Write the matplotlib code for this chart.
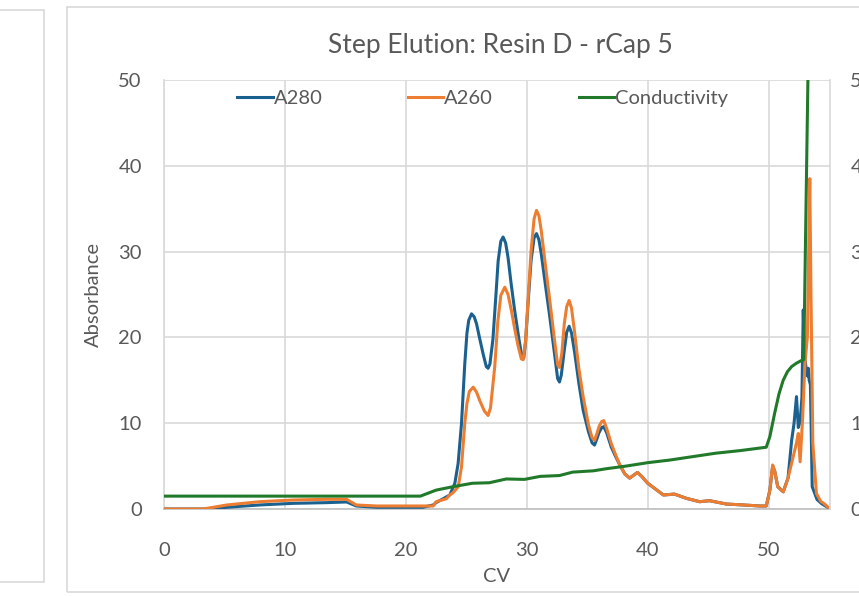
import matplotlib
matplotlib.use("Agg")
import matplotlib.pyplot as plt
from matplotlib.patches import Rectangle

# ---- data -------------------------------------------------------------
cv_a280 = [0.0, 3.25, 5.2, 7.9, 10.7, 13.4, 15.1, 15.9, 17.6, 21.4, 22.26, 22.5,
           23.63, 24.05, 24.32, 24.6, 24.87, 25.05, 25.2, 25.43, 25.65, 25.84,
           26.1, 26.4, 26.65, 26.8, 26.95, 27.2, 27.45, 27.63, 27.85, 28.04,
           28.25, 28.45, 28.7, 29.0, 29.35, 29.6, 29.75, 29.9, 30.1, 30.35,
           30.6, 30.8, 31.0, 31.2, 31.55, 31.9, 32.3, 32.55, 32.7, 32.85, 33.1,
           33.3, 33.5, 33.7, 33.97, 34.3, 34.66, 35.1, 35.4, 35.6, 35.8, 35.97,
           36.2, 36.36, 36.6, 36.99, 37.35, 37.7, 38.1, 38.5, 38.8, 39.15, 39.5,
           40.0, 41.3, 42.2, 43.2, 44.3, 45.1, 46.5, 47.9, 49.3, 49.8, 50.1,
           50.33, 50.5, 50.75, 51.2, 51.6, 51.9, 52.1, 52.3, 52.45, 52.6, 52.75,
           52.86, 52.95, 53.1, 53.2, 53.28, 53.35, 53.45, 53.6, 54.0, 54.4, 55.0]
a280 = [0.0, 0.0, 0.2, 0.47, 0.66, 0.74, 0.82, 0.35, 0.2, 0.2, 0.47, 0.74,
        1.63, 3.0, 5.3, 9.96, 16.9, 20.5, 22.0, 22.75, 22.4, 21.6,
        19.9, 18.0, 16.6, 16.4, 16.9, 19.8, 25.0, 28.9, 31.2, 31.7,
        31.0, 29.3, 26.3, 23.1, 19.8, 17.7, 17.6, 19.5, 23.9, 28.9,
        31.6, 32.1, 31.4, 29.7, 26.0, 22.4, 18.0, 15.2, 14.8, 15.6, 18.5,
        20.6, 21.3, 20.5, 18.1, 14.7, 11.5, 9.0, 7.7, 7.45, 8.2, 8.9,
        9.5, 9.6, 8.9, 7.2, 6.1, 5.1, 4.1, 3.6, 3.9, 4.26, 3.8,
        3.0, 1.63, 1.74, 1.24, 0.85, 0.97, 0.58, 0.47, 0.35, 0.35, 2.2,
        5.0, 4.4, 2.6, 2.0, 3.6, 8.0, 10.0, 13.1, 9.5, 10.2, 13.0,
        23.2, 18.0, 16.4, 15.5, 16.4, 15.0, 14.5, 2.6, 1.1, 0.6, 0.1]

cv_a260 = [0.0, 3.25, 5.2, 7.9, 10.7, 13.4, 15.1, 15.9, 17.6, 21.4, 22.26, 22.5,
           23.36, 23.6, 23.9, 24.33, 24.6, 24.87, 25.05, 25.25, 25.57, 25.85,
           26.12, 26.5, 26.8, 27.0, 27.35, 27.6, 27.85, 28.18, 28.45, 28.73,
           29.0, 29.28, 29.55, 29.7, 29.9, 30.1, 30.35, 30.6, 30.8, 31.0, 31.2,
           31.55, 31.9, 32.3, 32.55, 32.7, 32.9, 33.1, 33.3, 33.5, 33.7, 33.97,
           34.3, 34.66, 35.1, 35.4, 35.6, 35.8, 36.0, 36.2, 36.36, 36.6, 36.99,
           37.35, 37.7, 38.1, 38.5, 38.8, 39.15, 39.5, 40.0, 41.3, 42.2, 43.2,
           44.3, 45.1, 46.5, 47.9, 49.3, 49.8, 50.1, 50.33, 50.5, 50.75, 51.21,
           51.6, 52.03, 52.3, 52.45, 52.6, 52.8, 53.0, 53.2, 53.4, 53.5, 53.65,
           53.95, 54.3, 54.6, 55.0]
a260 = [0.0, 0.0, 0.47, 0.85, 1.05, 1.13, 1.13, 0.47, 0.35, 0.35, 0.35, 0.85,
        1.2, 1.6, 1.9, 2.6, 4.9, 9.96, 12.3, 13.7, 14.2, 13.6,
        12.6, 11.4, 10.9, 11.8, 16.6, 21.8, 24.9, 25.85, 25.0, 23.1,
        21.0, 19.0, 17.5, 17.4, 19.6, 24.3, 30.0, 33.8, 34.8, 34.2, 32.4,
        28.3, 24.3, 19.6, 16.8, 16.5, 18.2, 21.6, 23.6, 24.3, 23.4, 20.4,
        16.4, 13.1, 9.8, 8.3, 8.0, 8.8, 9.7, 10.2, 10.3, 9.4, 7.6,
        6.3, 5.1, 4.1, 3.6, 3.9, 4.26, 3.8, 3.0, 1.63, 1.74, 1.24,
        0.85, 0.97, 0.58, 0.47, 0.35, 0.35, 2.2, 5.13, 4.4, 2.6, 2.0,
        3.6, 6.1, 7.7, 8.8, 5.5, 10.4, 17.0, 20.0, 38.5, 25.0, 7.7,
        1.8, 0.9, 0.6, 0.1]

cv_cond = [0.0, 21.2, 22.5, 23.9, 25.5, 26.9, 28.3, 29.8, 31.1, 32.7, 33.8,
           35.5, 36.6, 38.2, 40.0, 41.8, 43.7, 45.6, 47.6, 49.8, 50.1, 50.5,
           50.85, 51.2, 51.55, 51.9, 52.3, 52.7, 52.9, 53.35, 55.0]
conductivity = [1.5, 1.5, 2.2, 2.6, 3.0, 3.06, 3.5, 3.45, 3.8, 3.9, 4.3,
                4.45, 4.7, 5.0, 5.4, 5.7, 6.1, 6.5, 6.8, 7.2, 8.45, 11.2,
                13.4, 15.0, 16.0, 16.6, 17.0, 17.3, 17.4, 60.0, 60.0]

title = "Step Elution: Resin D - rCap 5"
x_label = "CV"
y_label = "Absorbance"
x_ticks = [0, 10, 20, 30, 40, 50]
y_ticks = [0, 10, 20, 30, 40, 50]

# ---- style ------------------------------------------------------------
FONT = ["Lato", "DejaVu Sans"]
TEXT = "#595959"
GRID = "#d9d9d9"
C280 = "#1b6190"
C260 = "#ed7d31"
CCON = "#217a2a"
W, H = 859, 596
FS = 14.5

plt.rcParams["font.family"] = FONT
fig = plt.figure(figsize=(W / 100, H / 100), dpi=100)

# panel frames
fig.patches.append(Rectangle((-5 / W, 1 - 582 / H), 49 / W, 572 / H,
                             transform=fig.transFigure, fill=False,
                             edgecolor=GRID, lw=1.2))
fig.patches.append(Rectangle((67 / W, 1 - 592 / H), 800 / W, 585 / H,
                             transform=fig.transFigure, fill=False,
                             edgecolor=GRID, lw=1.2))

x0, x1, y0, y1 = 164, 829.5, 509, 80
ax = fig.add_axes([x0 / W, 1 - y0 / H, (x1 - x0) / W, (y0 - y1) / H])
ax.set_xlim(0, 55.03)
ax.set_ylim(0, 50)
ax.set_xticks(x_ticks)
ax.set_yticks(y_ticks)
ax.grid(True, color=GRID, lw=1.2)
ax.set_axisbelow(True)
for s in ("top", "right"):
    ax.spines[s].set_visible(False)
ax.spines["left"].set_color(GRID)
ax.spines["bottom"].set_color("#bfbfbf")
ax.spines["left"].set_linewidth(1.2)
ax.spines["bottom"].set_linewidth(1.2)

l1, = ax.plot(cv_a280, a280, color=C280, lw=2.2, label="A280", zorder=3,
              solid_joinstyle="round")
l2, = ax.plot(cv_a260, a260, color=C260, lw=2.2, label="A260", zorder=4,
              solid_joinstyle="round")

# secondary axis for conductivity; its labels run off the right edge
ax2 = ax.twinx()
ax2.set_ylim(0, 50)
ax2.set_yticks(y_ticks)
for s in ("top", "left", "bottom"):
    ax2.spines[s].set_visible(False)
ax2.spines["right"].set_color(GRID)
ax2.spines["right"].set_linewidth(1.2)
ax2.tick_params(length=0, labelsize=FS, labelcolor=TEXT, pad=15)
l3, = ax2.plot(cv_cond, conductivity, color=CCON, lw=2.2, label="Conductivity",
               solid_joinstyle="round")

ax.xaxis.set_tick_params(length=0, labelsize=FS, labelcolor=TEXT, pad=24)
ax.yaxis.set_tick_params(length=0, labelsize=FS, labelcolor=TEXT, pad=16)

ax.set_xlabel(x_label, fontsize=FS, color=TEXT, labelpad=6)
ax.set_ylabel(y_label, fontsize=FS, color=TEXT, labelpad=12)
fig.text(500 / W, 1 - 45 / H, title, ha="center", va="center",
         fontsize=19, color=TEXT)

leg = ax.legend(handles=[l1, l2, l3], loc="upper center",
                bbox_to_anchor=(0.479, 1.02), ncol=3, frameon=False,
                fontsize=FS, handlelength=1.75, handletextpad=0.05,
                columnspacing=4.25, labelcolor=TEXT)

fig.savefig("out.png", dpi=100)
